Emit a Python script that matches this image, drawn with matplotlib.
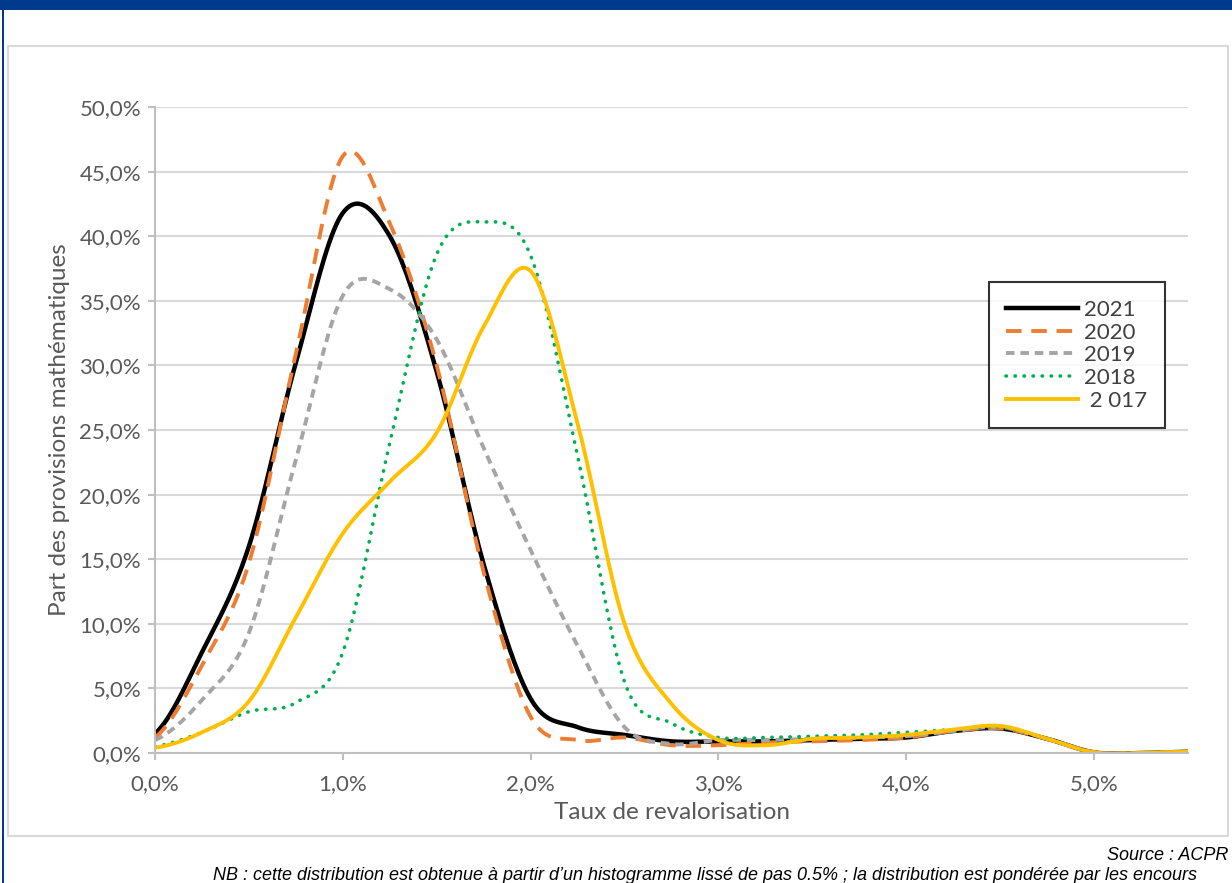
import numpy as np
import matplotlib
matplotlib.use("Agg")
import matplotlib.pyplot as plt
from matplotlib.ticker import FuncFormatter, MultipleLocator
from matplotlib.patches import Rectangle

plt.rcParams['font.family'] = ['Lato', 'DejaVu Sans']

# taux de revalorisation (en %), pas de 0,25 %
taux = [0.0, 0.25, 0.5, 0.75, 1.0, 1.25, 1.5, 1.75, 2.0, 2.25, 2.5, 2.75,
        3.0, 3.25, 3.5, 3.75, 4.0, 4.25, 4.5, 4.75, 5.0, 5.25, 5.5]

# part des provisions mathematiques (en %)
pm_2021 = [1.5, 7.8, 16.0, 30.2, 41.8, 40.0, 29.5, 14.6, 4.2, 2.0, 1.4, 0.9,
           0.9, 0.9, 1.0, 1.1, 1.2, 1.7, 1.9, 1.1, 0.05, 0.0, 0.1]
pm_2020 = [1.2, 6.8, 14.7, 30.9, 46.2, 41.0, 30.0, 14.0, 2.8, 1.0, 1.2, 0.6,
           0.6, 0.8, 0.9, 1.0, 1.2, 1.7, 1.9, 1.1, 0.05, 0.0, 0.1]
pm_2019 = [1.0, 4.1, 9.3, 22.7, 35.4, 35.9, 32.0, 23.6, 15.7, 8.3, 2.0, 0.7,
           1.0, 1.0, 1.1, 1.2, 1.3, 1.7, 2.0, 1.1, 0.05, 0.0, 0.1]
pm_2018 = [0.5, 1.6, 3.2, 3.9, 7.8, 24.0, 38.6, 41.1, 38.5, 23.0, 5.5, 2.3,
           1.2, 1.2, 1.3, 1.4, 1.6, 1.8, 2.0, 1.1, 0.05, 0.0, 0.1]
pm_2017 = [0.4, 1.6, 4.0, 10.5, 17.0, 21.0, 24.8, 33.0, 37.3, 25.5, 10.0, 3.8,
           1.0, 0.6, 1.1, 1.2, 1.4, 1.8, 2.1, 1.1, 0.05, 0.0, 0.1]

series = ["2021", "2020", "2019", "2018", " 2 017"]


def lisse(x, y, n=20):
    # courbe lissee type Catmull-Rom entre les points
    x = np.asarray(x, float)
    y = np.asarray(y, float)
    px = np.concatenate([[2 * x[0] - x[1]], x, [2 * x[-1] - x[-2]]])
    py = np.concatenate([[y[0]], y, [y[-1]]])
    xs, ys = [], []
    t = np.linspace(0, 1, n, endpoint=False)
    for i in range(1, len(px) - 2):
        for arr, out in ((px, xs), (py, ys)):
            p0, p1, p2, p3 = arr[i - 1], arr[i], arr[i + 1], arr[i + 2]
            out.extend(0.5 * (2 * p1 + (-p0 + p2) * t
                              + (2 * p0 - 5 * p1 + 4 * p2 - p3) * t ** 2
                              + (-p0 + 3 * p1 - 3 * p2 + p3) * t ** 3))
    xs.append(x[-1])
    ys.append(y[-1])
    return np.array(xs) / 100, np.array(ys) / 100


fig = plt.figure(figsize=(12.32, 8.83), dpi=100)

# bandeau bleu et cadre
fig.patches.append(Rectangle((0, 1 - 10 / 883), 1, 10 / 883, transform=fig.transFigure,
                             facecolor="#003a8c", edgecolor="none"))
fig.patches.append(Rectangle((1.5 / 1232, 0), 2.5 / 1232, 1, transform=fig.transFigure,
                             facecolor="#003a8c", edgecolor="none"))
fig.patches.append(Rectangle((8 / 1232, 1 - 836 / 883), 1220 / 1232, 790 / 883,
                             transform=fig.transFigure, facecolor="none",
                             edgecolor="#d9d9d9", lw=1.5))

ax = fig.add_axes([155 / 1232, 1 - 753 / 883, 1033 / 1232, 646 / 883])

ax.plot(*lisse(taux, pm_2021), color="black", lw=3.2, label=series[0])
ax.plot(*lisse(taux, pm_2020), color="#ed7d31", lw=2.8, dashes=(4, 2.5), label=series[1])
ax.plot(*lisse(taux, pm_2019), color="#a5a5a5", lw=2.8, dashes=(2.2, 1.5), label=series[2])
ax.plot(*lisse(taux, pm_2018), color="#00b050", lw=2.6, dashes=(0.1, 2.4),
        dash_capstyle="round", label=series[3])
ax.plot(*lisse(taux, pm_2017), color="#ffc000", lw=2.8, label=series[4])

ax.set_xlim(0, 0.055)
ax.set_ylim(0, 0.5)
ax.xaxis.set_major_locator(MultipleLocator(0.01))
ax.yaxis.set_major_locator(MultipleLocator(0.05))
pct = FuncFormatter(lambda v, p: f"{v * 100:.1f}%".replace(".", ","))
ax.xaxis.set_major_formatter(pct)
ax.yaxis.set_major_formatter(pct)

ax.grid(axis="y", color="#d9d9d9", lw=1.5)
ax.set_axisbelow(True)
for s in ("top", "right"):
    ax.spines[s].set_visible(False)
for s in ("left", "bottom"):
    ax.spines[s].set_color("#bfbfbf")
    ax.spines[s].set_linewidth(1.5)
ax.tick_params(colors="#595959", labelsize=16, length=5, width=1.5)
ax.tick_params(axis="x", pad=10, color="#bfbfbf")
ax.tick_params(axis="y", pad=5, color="#bfbfbf")

ax.set_xlabel("Taux de revalorisation", fontsize=17.5, color="#595959", labelpad=6)
ax.set_ylabel("Part des provisions mathématiques", fontsize=17.5, color="#595959", labelpad=7)

leg = ax.legend(loc="upper left", bbox_to_anchor=(0.807, 0.729), fontsize=16,
                frameon=True, fancybox=False, handlelength=3.2, handletextpad=0.3,
                labelspacing=0.12, borderpad=0.8, borderaxespad=0)
leg.get_frame().set_edgecolor("black")
leg.get_frame().set_linewidth(1.5)
for t in leg.get_texts():
    t.set_color("#404040")

fig.text(1228 / 1232, 1 - 856 / 883, "Source : ACPR", ha="right", va="center",
         fontsize=13, style="italic", family="Liberation Sans")
fig.text(213 / 1232, 1 - 875 / 883,
         "NB : cette distribution est obtenue à partir d’un histogramme lissé de pas 0.5% ; "
         "la distribution est pondérée par les encours",
         ha="left", va="center", fontsize=13, style="italic", family="Liberation Sans")

fig.savefig("out.png", dpi=100, facecolor="white")
